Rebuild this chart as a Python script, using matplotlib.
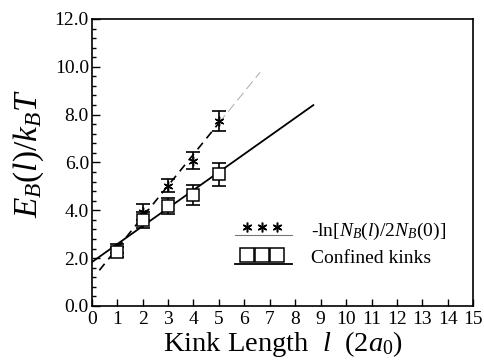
import numpy as np
import matplotlib
matplotlib.use("Agg")
import matplotlib.pyplot as plt
from matplotlib.lines import Line2D
from matplotlib.legend_handler import HandlerBase
from matplotlib.ticker import MultipleLocator

plt.rcParams['font.family'] = ['Liberation Serif', 'DejaVu Serif']
plt.rcParams['mathtext.fontset'] = 'custom'
plt.rcParams['mathtext.rm'] = 'Liberation Serif'
plt.rcParams['mathtext.it'] = 'Liberation Serif:italic'
plt.rcParams['mathtext.bf'] = 'Liberation Serif:bold'

# ---- data ----
kink_len = [1, 2, 3, 4, 5]
ln_ratio = [2.41, 3.92, 5.03, 6.07, 7.75]
ln_ratio_err = [0.20, 0.33, 0.28, 0.35, 0.42]
confined = [2.25, 3.60, 4.18, 4.64, 5.51]
confined_err = [0.22, 0.33, 0.32, 0.40, 0.48]

# linear fits (intercept, slope) and drawn ranges
fit_confined = (1.83, 0.754)
fit_confined_range = (0.0, 8.71)
fit_ln = (1.10, 1.31)
fit_ln_range = (0.3, 5.0)
fit_ln_ext = (5.0, 6.62)

xticks = list(range(0, 16))
yticks = [0, 2, 4, 6, 8, 10, 12]

fig = plt.figure(figsize=(4.84, 3.62), dpi=100)
ax = fig.add_axes([0.1895, 0.1547, 0.7885, 0.793])

def line(fit, rng):
    x = np.array(rng)
    return x, fit[0] + fit[1] * x

x, y = line(fit_confined, fit_confined_range)
ax.plot(x, y, color='black', lw=1.3)
x, y = line(fit_ln, fit_ln_range)
ax.plot(x, y, color='black', lw=1.2, ls=(0, (5, 3.5)))
x, y = line(fit_ln, fit_ln_ext)
ax.plot(x, y, color='#aaaaaa', lw=0.7, ls=(0, (10, 5)))

ax.errorbar(kink_len, ln_ratio, yerr=ln_ratio_err, fmt='none', ecolor='black',
            elinewidth=1.2, capsize=5, capthick=1.2)
ax.plot(kink_len, ln_ratio, ls='none', marker=(6, 2, 0), ms=7, mec='black', mew=1.0)
ax.errorbar(kink_len, confined, yerr=confined_err, fmt='none', ecolor='black',
            elinewidth=1.2, capsize=5, capthick=1.2)
ax.plot(kink_len, confined, ls='none', marker='s', ms=8.5, mfc='white', mec='black', mew=1.1)

ax.set_xlim(0, 15)
ax.set_ylim(0, 12)
ax.set_xticks(xticks)
ax.set_xticklabels([str(t) for t in xticks])
ax.set_yticks(yticks)
ax.set_yticklabels([f"{t:.1f}" for t in yticks])
ax.yaxis.set_minor_locator(MultipleLocator(0.4))
ax.tick_params(axis='both', which='both', direction='in', top=False, right=False,
               labelsize=14, width=1.0)
ax.tick_params(axis='y', which='major', length=6, pad=2)
ax.tick_params(axis='y', which='minor', length=3)
ax.tick_params(axis='x', which='major', length=5, pad=3.5)
for s in ax.spines.values():
    s.set_linewidth(1.2)

ax.set_xlabel(r'Kink Length  $l$  (2$a_0$)', fontsize=20.5, labelpad=0.5)
ax.set_ylabel(r'$E_B(l)/k_BT$', fontsize=24)
ax.yaxis.set_label_coords(-0.12, 0.53)


class UnderHandler(HandlerBase):
    def create_artists(self, legend, orig_handle, xdescent, ydescent, width, height,
                       fontsize, trans):
        marker, ms, mfc, lw, lc, off = orig_handle
        xs = np.linspace(0.2 * width, 0.73 * width, 3) - xdescent
        m = Line2D(xs, [0.6 * height - ydescent] * 3, ls='none', marker=marker, ms=ms,
                   mfc=mfc, mec='black', mew=1.1, transform=trans)
        l = Line2D([-xdescent, width - xdescent], [off * height - ydescent] * 2,
                   color=lc, lw=lw, transform=trans)
        return [m, l]

h1 = ((6, 2, 0), 7, 'black', 0.8, '#777777', 0.05)
h2 = ('s', 9.5, 'white', 1.3, 'black', -0.08)
ax.legend([h1, h2], [r'-ln[$N_B(l)/2N_B$(0)]', 'Confined kinks'],
          handler_map={tuple: UnderHandler()}, loc='lower left',
          bbox_to_anchor=(0.33, 0.075), frameon=False, fontsize=14,
          handlelength=2.94, handletextpad=0.95, labelspacing=0.4)

fig.savefig('out.png', dpi=100)
